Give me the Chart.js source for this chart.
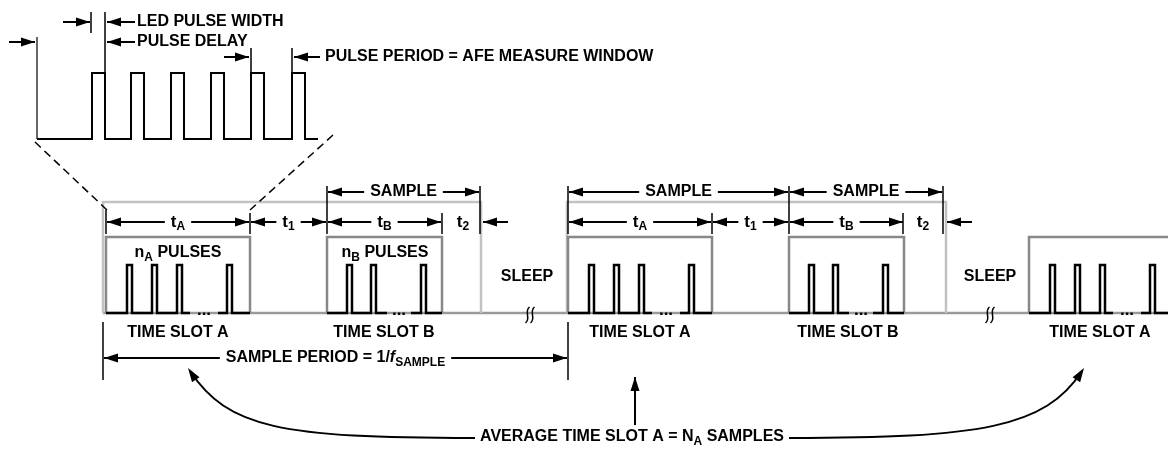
<!DOCTYPE html>
<html><head><meta charset="utf-8">
<script src="https://cdn.jsdelivr.net/npm/chart.js@4.4.1/dist/chart.umd.min.js"></script>
<style>html,body{margin:0;padding:0;background:#fff}canvas{display:block}</style>
</head><body>
<canvas id="c" width="1168" height="449"></canvas>
<script>
// zoomed pulse train (top inset), x = time units, y = drawing level
const insetRises = [92, 131, 171, 211, 251, 292];
const insetWidth = 13;
const insetSpan = [37, 318];
const insetLevels = [139, 73];

// main timeline
const slotAStarts = [106, 568, 1029];
const slotBStarts = [327, 789];
const slotALength = 144;
const slotBLength = 115;
const pulseOffsetsA = [21, 46, 71, 121];
const pulseOffsetsB = [20, 44, 94];
const pulseWidth = 5;
const dotsGapA = [84, 112];
const dotsGapB = [60, 84];
const sampleFrames = [[103, 481], [567, 946]];
const sleepBreaks = [530, 990];
const levels = {base: 313, pulse: 265, slot: 237, frame: 202};

const FONT = '"Liberation Sans", Arial, sans-serif';

function wave(from, to, low, high, rises, w, gap) {
  const segs = [];
  let cur = [{x: from, y: low}];
  let split = false;
  rises.forEach(r => {
    if (gap && !split && r > gap[0]) {
      cur.push({x: gap[0], y: low});
      segs.push(cur);
      cur = [{x: gap[1], y: low}];
      split = true;
    }
    cur.push({x: r, y: low}, {x: r, y: high}, {x: r + w, y: high}, {x: r + w, y: low});
  });
  cur.push({x: to, y: low});
  segs.push(cur);
  return segs;
}

const datasets = [];
function addLine(data, color, width, order, dash) {
  datasets.push({data: data, borderColor: color, borderWidth: width, order: order,
    borderDash: dash || [], showLine: true, pointRadius: 0, fill: false, tension: 0});
}

// inset
wave(insetSpan[0], insetSpan[1], insetLevels[0], insetLevels[1], insetRises, insetWidth)
  .forEach(s => addLine(s, '#000', 2, 0));

// baseline
addLine([{x: 103, y: levels.base}, {x: 1168, y: levels.base}], '#9a9a9a', 2.5, 5);
// sample frames
sampleFrames.forEach(f => addLine([{x: f[0], y: levels.base}, {x: f[0], y: levels.frame},
  {x: f[1], y: levels.frame}, {x: f[1], y: levels.base}], '#c2c2c2', 2.5, 4));
// slot boxes + pulses
slotAStarts.forEach(s => {
  addLine([{x: s, y: levels.base}, {x: s, y: levels.slot}, {x: s + slotALength, y: levels.slot},
    {x: s + slotALength, y: levels.base}], '#888', 2.5, 3);
  wave(s, s + slotALength, levels.base, levels.pulse, pulseOffsetsA.map(o => s + o), pulseWidth,
    dotsGapA.map(g => s + g)).forEach(seg => addLine(seg, '#000', 2.5, 1));
});
slotBStarts.forEach(s => {
  addLine([{x: s, y: levels.base}, {x: s, y: levels.slot}, {x: s + slotBLength, y: levels.slot},
    {x: s + slotBLength, y: levels.base}], '#888', 2.5, 3);
  wave(s, s + slotBLength, levels.base, levels.pulse, pulseOffsetsB.map(o => s + o), pulseWidth,
    dotsGapB.map(g => s + g)).forEach(seg => addLine(seg, '#000', 2.5, 1));
});
// zoom dashes
addLine([{x: 35, y: 142}, {x: 107, y: 210}], '#000', 1.5, 0, [8, 5]);
addLine([{x: 333, y: 135}, {x: 250, y: 210}], '#000', 1.5, 0, [8, 5]);

const notes = {
  id: 'notes',
  afterDatasetsDraw(chart) {
    const ctx = chart.ctx;
    const X = v => chart.scales.x.getPixelForValue(v);
    const Y = v => chart.scales.y.getPixelForValue(v);
    ctx.save();
    ctx.fillStyle = '#000';
    ctx.strokeStyle = '#000';

    function line(x1, y1, x2, y2, w) {
      ctx.lineWidth = w || 1.5;
      ctx.beginPath(); ctx.moveTo(X(x1), Y(y1)); ctx.lineTo(X(x2), Y(y2)); ctx.stroke();
    }
    function head(tx, ty, ang) {
      const L = 14, H = 4.5;
      ctx.beginPath();
      ctx.moveTo(tx, ty);
      ctx.lineTo(tx - L * Math.cos(ang) + H * Math.sin(ang), ty - L * Math.sin(ang) - H * Math.cos(ang));
      ctx.lineTo(tx - L * Math.cos(ang) - H * Math.sin(ang), ty - L * Math.sin(ang) + H * Math.cos(ang));
      ctx.closePath(); ctx.fill();
    }
    function arrow(x1, y1, x2, y2) {
      line(x1, y1, x2, y2, 2);
      head(X(x2), Y(y2), Math.atan2(Y(y2) - Y(y1), X(x2) - X(x1)));
    }
    function fontFor(kind) {
      if (kind === 'sub') return 'bold 12px ' + FONT;
      if (kind === 'it') return 'italic bold 16px ' + FONT;
      if (kind === 'big') return 'bold 17px ' + FONT;
      return 'bold 16px ' + FONT;
    }
    function richWidth(parts) {
      let w = 0;
      parts.forEach(p => {
        ctx.font = fontFor(p[1]);
        w += ctx.measureText(p[0]).width;
      });
      return w;
    }
    function rich(parts, x, y, align) {
      const w = richWidth(parts);
      let cx = X(x);
      if (align === 'center') cx -= w / 2;
      ctx.textBaseline = 'middle';
      ctx.textAlign = 'left';
      parts.forEach(p => {
        ctx.font = fontFor(p[1]);
        ctx.fillText(p[0], cx, Y(y) + (p[1] === 'sub' ? 5 : 0));
        cx += ctx.measureText(p[0]).width;
      });
      return w;
    }
    function dim(x1, x2, y, parts) {
      const mid = (x1 + x2) / 2;
      const w = rich(parts, mid, y, 'center');
      arrow(mid - w / 2 - 6, y, x1 + 1, y);
      arrow(mid + w / 2 + 6, y, x2 - 1, y);
    }

    // inset annotations
    line(37, 37, 37, 139, 1.2);
    line(91, 12, 91, 33); line(105, 12, 105, 72);
    line(251, 48, 251, 72); line(292, 48, 292, 72);
    arrow(63, 22, 90, 22); arrow(135, 22, 107, 22); arrow(135, 42, 107, 42);
    arrow(9, 42, 35, 42); arrow(224, 57, 249, 57); arrow(320, 57, 294, 57);
    rich([['LED PULSE WIDTH']], 137, 22);
    rich([['PULSE DELAY']], 137, 42);
    rich([['PULSE PERIOD = AFE MEASURE WINDOW']], 325, 57);

    // ticks
    [[106, 210], [250, 213], [327, 186], [442, 213], [480, 186],
     [568, 186], [712, 213], [789, 186], [903, 213], [943, 186]]
      .forEach(t => line(t[0], t[1], t[0], 234));
    // dimensions
    slotAStarts.slice(0, 2).forEach((s, i) => {
      const b = slotBStarts[i];
      dim(s, s + slotALength, 222, [['t', 'big'], ['A', 'sub']]);
      dim(s + slotALength, b, 222, [['t', 'big'], ['1', 'sub']]);
      dim(b, b + slotBLength, 222, [['t', 'big'], ['B', 'sub']]);
    });
    dim(327, 480, 192, [['SAMPLE']]);
    dim(568, 789, 192, [['SAMPLE']]);
    dim(789, 943, 192, [['SAMPLE']]);
    rich([['t', 'big'], ['2', 'sub']], 463, 222, 'center');
    rich([['t', 'big'], ['2', 'sub']], 923, 222, 'center');
    arrow(508, 222, 483, 222);
    arrow(972, 222, 947, 222);

    rich([['n'], ['A', 'sub'], [' PULSES']], 178, 253, 'center');
    rich([['n'], ['B', 'sub'], [' PULSES']], 385, 253, 'center');
    rich([['SLEEP']], 527, 277, 'center');
    rich([['SLEEP']], 990, 277, 'center');
    // dots
    slotAStarts.forEach(s => rich([['...', 'big']], s + (dotsGapA[0] + dotsGapA[1]) / 2, 310, 'center'));
    slotBStarts.forEach(s => rich([['...', 'big']], s + (dotsGapB[0] + dotsGapB[1]) / 2, 310, 'center'));
    // sleep breaks
    sleepBreaks.forEach(b => {
      ctx.lineWidth = 1.5;
      [-2.5, 2.5].forEach(d => {
        const x = X(b + d), y = Y(levels.base + 2);
        ctx.beginPath();
        ctx.moveTo(x + 2, y - 8);
        ctx.bezierCurveTo(x - 4, y - 3, x + 4, y + 3, x - 2, y + 8);
        ctx.stroke();
      });
    });

    rich([['TIME SLOT A']], 178, 333, 'center');
    rich([['TIME SLOT B']], 384, 333, 'center');
    rich([['TIME SLOT A']], 640, 333, 'center');
    rich([['TIME SLOT B']], 848, 333, 'center');
    rich([['TIME SLOT A']], 1100, 333, 'center');

    line(103, 322, 103, 380); line(568, 322, 568, 380);
    dim(103, 568, 358, [['SAMPLE PERIOD = 1/'], ['f', 'it'], ['SAMPLE', 'sub']]);

    // averaging
    const aw = rich([['AVERAGE TIME SLOT A = N'], ['A', 'sub'], [' SAMPLES']], 632, 437, 'center');
    const ax0 = X(632) - aw / 2 - 5, ax1 = X(632) + aw / 2 + 5, ay = Y(438);
    ctx.lineWidth = 2;
    ctx.beginPath(); ctx.moveTo(ax0, ay);
    ctx.bezierCurveTo(X(280), ay, X(228), Y(428), X(190), Y(371)); ctx.stroke();
    head(X(188), Y(368), Math.atan2(Y(368) - Y(428), X(188) - X(228)));
    ctx.beginPath(); ctx.moveTo(ax1, ay);
    ctx.bezierCurveTo(X(980), ay, X(1045), Y(428), X(1082), Y(371)); ctx.stroke();
    head(X(1084), Y(368), Math.atan2(Y(368) - Y(428), X(1084) - X(1045)));
    arrow(635, 425, 635, 377);
    ctx.restore();
  }
};

new Chart(document.getElementById('c'), {
  type: 'scatter',
  data: {datasets: datasets},
  options: {
    responsive: false,
    animation: false,
    devicePixelRatio: 1,
    layout: {padding: 0},
    scales: {
      x: {type: 'linear', min: 0, max: 1168, display: false},
      y: {type: 'linear', min: 0, max: 449, reverse: true, display: false}
    },
    plugins: {legend: {display: false}, tooltip: {enabled: false}}
  },
  plugins: [notes]
});
</script>
</body></html>
